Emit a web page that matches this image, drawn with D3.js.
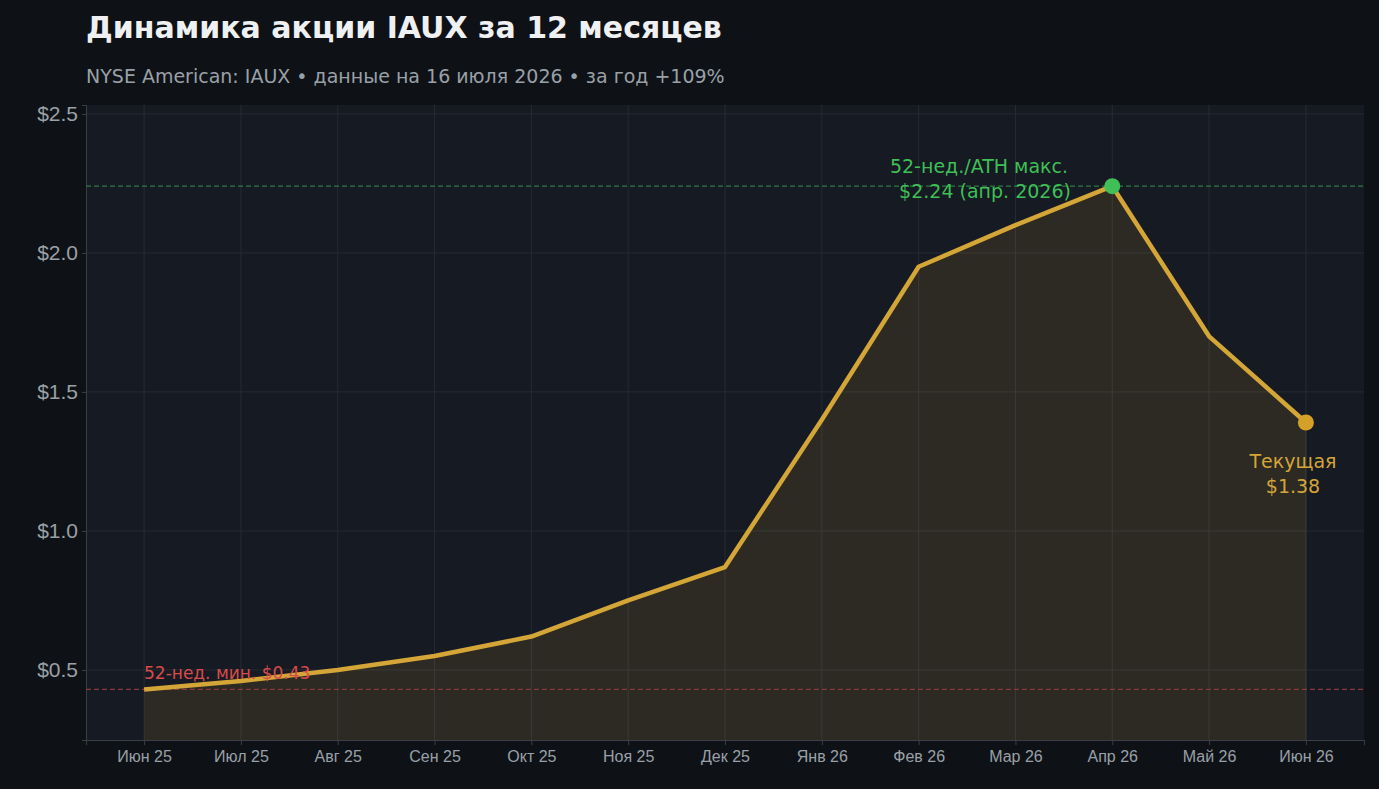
<!DOCTYPE html><html><head><meta charset="utf-8"><script src="https://cdn.jsdelivr.net/npm/d3@7"></script>
<style>body{margin:0;background:#0e1216;}svg{display:block;font-family:"DejaVu Sans",sans-serif;}</style></head><body><svg id="c" width="1379" height="789"></svg><script>
const months=["Июн 25","Июл 25","Авг 25","Сен 25","Окт 25","Ноя 25","Дек 25","Янв 26","Фев 26","Мар 26","Апр 26","Май 26","Июн 26"];
const prices=[0.43,0.46,0.50,0.55,0.62,0.75,0.87,1.40,1.95,2.10,2.24,1.70,1.39];
const yTicks=[0.5,1.0,1.5,2.0,2.5];
const low=0.43, high=2.24, highIdx=10;
const svg=d3.select("#c");
svg.append("rect").attr("width",1379).attr("height",789).attr("fill","#0e1216");
const L=86,R=1364,T=105,B=740;
svg.append("rect").attr("x",L).attr("y",T).attr("width",R-L).attr("height",B-T).attr("fill","#161a22");
const step=(1306-144)/12;
const x=d3.scaleLinear().domain([-0.6,12.6]).range([L,R]);
const y=d3.scaleLinear().domain([0.248,2.532]).range([B,T]);
const g=svg.append("g");
months.forEach((m,i)=>g.append("line").attr("x1",x(i)).attr("x2",x(i)).attr("y1",T).attr("y2",B).attr("stroke","#262b33").attr("stroke-width",1));
yTicks.forEach(v=>g.append("line").attr("x1",L).attr("x2",R).attr("y1",y(v)).attr("y2",y(v)).attr("stroke","#262b33"));
const xa=svg.append("g").attr("transform",`translate(0,${B})`).call(d3.axisBottom(x).tickValues(d3.range(13)).tickFormat(i=>months[i]).tickSize(5).tickPadding(6));
xa.selectAll("text").attr("fill","#9aa0a8").attr("font-size",16);
xa.selectAll("line").attr("stroke","#3a3f47");xa.select(".domain").attr("stroke","#3a3f47");
const ya=svg.append("g").attr("transform",`translate(${L},0)`).call(d3.axisLeft(y).tickValues(yTicks).tickFormat(v=>"$"+v.toFixed(1)).tickSize(4).tickPadding(4));
ya.selectAll("text").attr("fill","#9aa0a8").attr("font-size",21);
ya.selectAll("line").attr("stroke","#3a3f47");ya.select(".domain").attr("stroke","#3a3f47");
const area=d3.area().x((d,i)=>x(i)).y0(B).y1(d=>y(d));
svg.append("path").datum(prices).attr("d",area).attr("fill","#d4a537").attr("opacity",0.12);
svg.append("line").attr("x1",x(12)).attr("x2",x(12)).attr("y1",y(prices[12])).attr("y2",B).attr("stroke","#3a3a35");
svg.append("line").attr("x1",L).attr("x2",R).attr("y1",y(high)).attr("y2",y(high)).attr("stroke","#2f7a45").attr("stroke-dasharray","5,3").attr("stroke-width",1.3);
svg.append("line").attr("x1",L).attr("x2",R).attr("y1",y(low)).attr("y2",y(low)).attr("stroke","#8a3a3a").attr("stroke-dasharray","5,3").attr("stroke-width",1.3);
svg.append("path").datum(prices).attr("d",d3.line().x((d,i)=>x(i)).y(d=>y(d))).attr("fill","none").attr("stroke","#d4a537").attr("stroke-width",4.5).attr("stroke-linejoin","round");
svg.append("circle").attr("cx",x(highIdx)).attr("cy",y(high)).attr("r",8).attr("fill","#3fbf55");
svg.append("circle").attr("cx",x(12)).attr("cy",y(prices[12])).attr("r",8).attr("fill","#d4a02a");
const t=(s,xx,yy,c,fs,a,w)=>svg.append("text").text(s).attr("x",xx).attr("y",yy).attr("fill",c).attr("font-size",fs).attr("text-anchor",a||"start").attr("font-weight",w||"normal");
t("52-нед./ATH макс.",979,173,"#3fbf55",19,"middle");
t("$2.24 (апр. 2026)",985,198,"#3fbf55",19,"middle");
t("Текущая",1293,468,"#d4a537",19,"middle");
t("$1.38",1293,493,"#d4a537",19,"middle");
t("52-нед. мин. $0.43",144,679,"#d94a4a",17);
t("Динамика акции IAUX за 12 месяцев",86,38,"#eef0f2",30,"start","bold");
t("NYSE American: IAUX  •  данные на 16 июля 2026  •  за год +109%",86,83,"#9aa0a8",19);
</script></body></html>
